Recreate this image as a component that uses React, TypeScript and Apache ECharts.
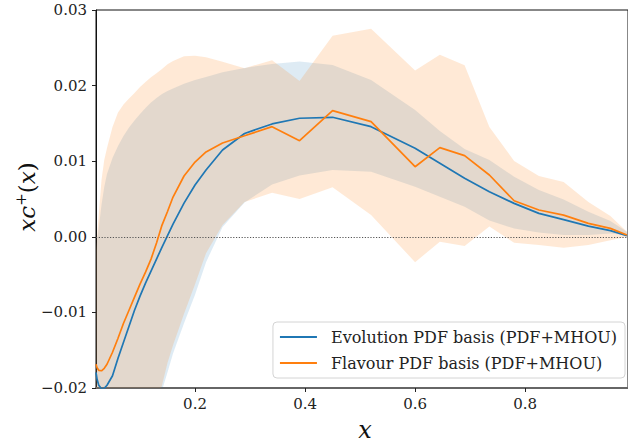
import React, { useEffect, useRef } from "react";
import * as echarts from "echarts";

// x grid shared by every curve
const X_VALUES = [0.02, 0.022, 0.025, 0.03, 0.035, 0.04, 0.05, 0.06, 0.07, 0.08, 0.09, 0.10, 0.11, 0.12, 0.13, 0.14, 0.15, 0.16, 0.18, 0.20, 0.22, 0.25, 0.29, 0.34, 0.39, 0.45, 0.52, 0.60, 0.645, 0.69, 0.735, 0.78, 0.825, 0.87, 0.915, 0.955, 0.985];

// Evolution PDF basis (PDF+MHOU)
const EVO_CENTRAL = [-0.01792, -0.01885, -0.01964, -0.02011, -0.02004, -0.01964, -0.01838, -0.01607, -0.01395, -0.01183, -0.00971, -0.00785, -0.00613, -0.00454, -0.00295, -0.00136, 0.00016, 0.00168, 0.00446, 0.00685, 0.00883, 0.01148, 0.01367, 0.01493, 0.01568, 0.01581, 0.01457, 0.01171, 0.00972, 0.00774, 0.00596, 0.00442, 0.0031, 0.00228, 0.00142, 0.00082, 0.00016];
const EVO_UPPER = [-0.00176, -0.00044, 0.00115, 0.0042, 0.00658, 0.0083, 0.01042, 0.01201, 0.01334, 0.01446, 0.01539, 0.01625, 0.01705, 0.01777, 0.01837, 0.0189, 0.0193, 0.01963, 0.02023, 0.02075, 0.02115, 0.02175, 0.02234, 0.02287, 0.02318, 0.02274, 0.02075, 0.01678, 0.014, 0.01162, 0.01016, 0.00795, 0.00619, 0.00493, 0.00331, 0.00208, 0.00066];
const EVO_LOWER = [-0.06, -0.058, -0.056, -0.054, -0.052, -0.05, -0.046, -0.0425, -0.039, -0.036, -0.033, -0.0305, -0.0282, -0.0259, -0.0232, -0.0203, -0.01792, -0.01544, -0.01143, -0.00766, -0.00335, 0.00128, 0.00453, 0.00691, 0.00811, 0.00883, 0.00861, 0.00662, 0.0053, 0.00397, 0.00215, 0.00109, 0.00058, 0.00023, 0.00023, 0.00045, 0.00023];

// Flavour PDF basis (PDF+MHOU)
const FLAV_CENTRAL = [-0.01686, -0.01732, -0.01766, -0.01772, -0.01739, -0.01686, -0.01527, -0.01342, -0.01143, -0.00971, -0.00799, -0.00626, -0.00468, -0.00295, -0.00083, 0.00155, 0.00334, 0.00526, 0.00804, 0.00989, 0.01122, 0.01241, 0.01336, 0.01457, 0.01272, 0.01669, 0.01523, 0.00927, 0.01179, 0.01073, 0.00817, 0.00477, 0.00354, 0.00287, 0.00177, 0.00111, 0.00023];
const FLAV_UPPER = [-0.00176, 0.00009, 0.00287, 0.00751, 0.01016, 0.01175, 0.01453, 0.01645, 0.01751, 0.0183, 0.01903, 0.01983, 0.02049, 0.02109, 0.02164, 0.02221, 0.02281, 0.02327, 0.02387, 0.02396, 0.02376, 0.02314, 0.0223, 0.02336, 0.02062, 0.02658, 0.02751, 0.02199, 0.02407, 0.02268, 0.01453, 0.01003, 0.00804, 0.00725, 0.0046, 0.00274, 0.00066];
const FLAV_LOWER = [-0.058, -0.056, -0.054, -0.052, -0.05, -0.048, -0.044, -0.0405, -0.037, -0.034, -0.0315, -0.0295, -0.0272, -0.0249, -0.0223, -0.01964, -0.01666, -0.01434, -0.01017, -0.00626, -0.00216, 0.00155, 0.0046, 0.00583, 0.00499, 0.00654, 0.00287, -0.00335, -0.00066, -0.00123, 0.00135, -0.00079, -0.0011, -0.00146, -0.0011, -0.00044, 0];

const X_TICKS = [0.2, 0.4, 0.6, 0.8];
const SERIES_NAMES = ["Evolution PDF basis (PDF+MHOU)", "Flavour PDF basis (PDF+MHOU)"];

const BLUE = "#1f77b4";
const ORANGE = "#ff7f0e";
const FONT = "DejaVu Serif";

function bandSeries(upper: number[], lower: number[], fill: string, z: number) {
  return {
    type: "custom",
    silent: true,
    clip: true,
    z,
    data: X_VALUES.map((x, i) => [x, upper[i], lower[i]]),
    encode: { x: 0, y: [1, 2] },
    renderItem: (params: any, api: any) => {
      if (params.dataIndex !== 0) return null;
      const pts: number[][] = [];
      for (let i = 0; i < X_VALUES.length; i++) pts.push(api.coord([X_VALUES[i], upper[i]]));
      for (let i = X_VALUES.length - 1; i >= 0; i--) pts.push(api.coord([X_VALUES[i], lower[i]]));
      const cs = params.coordSys;
      return {
        type: "group",
        clipPath: { type: "rect", shape: { x: cs.x, y: cs.y, width: cs.width, height: cs.height } },
        children: [{ type: "polygon", shape: { points: pts }, style: { fill, stroke: "none" } }],
      };
    },
  };
}

export default function App() {
  const ref = useRef<HTMLDivElement>(null);
  useEffect(() => {
    document.body.style.margin = "0";
    if (!ref.current) return;
    const chart = echarts.init(ref.current, null, { renderer: "svg" });
    const fmtY = (v: number) => (v < 0 ? "\u2212" : "") + Math.abs(v).toFixed(2);
    chart.setOption({
      animation: false,
      backgroundColor: "#fff",
      textStyle: { fontFamily: FONT },
      grid: { left: 96, top: 10, width: 533, height: 378, show: true, borderColor: "#111", borderWidth: 1, backgroundColor: "transparent" },
      xAxis: {
        type: "value",
        min: 0.02,
        max: 0.987,
        axisLine: { show: true, onZero: false, lineStyle: { color: "#666", width: 2 } },
        axisTick: { show: true, customValues: X_TICKS, length: 4, inside: false, lineStyle: { color: "#222" } },
        axisLabel: { customValues: X_TICKS, formatter: (v: number) => v.toFixed(1), fontFamily: FONT, fontSize: 15, color: "#222", margin: 8 },
        splitLine: { show: false },
      },
      yAxis: {
        type: "value",
        min: -0.02,
        max: 0.03,
        interval: 0.01,
        axisLine: { show: true, lineStyle: { color: "#111", width: 1 } },
        axisTick: { show: true, length: 4, inside: false, lineStyle: { color: "#222" } },
        axisLabel: { formatter: fmtY, fontFamily: FONT, fontSize: 15, color: "#222", margin: 9 },
        splitLine: { show: false },
      },
      legend: {
        orient: "vertical",
        right: 3,
        bottom: 68,
        data: SERIES_NAMES,
        icon: "rect",
        itemWidth: 37,
        itemHeight: 2,
        itemGap: 10,
        padding: [7, 8, 7, 7],
        backgroundColor: "rgba(255,255,255,0.85)",
        borderColor: "#d4d4d4",
        borderWidth: 1,
        borderRadius: 4,
        textStyle: { fontFamily: FONT, fontSize: 16, color: "#222", padding: [0, 0, 0, 9] },
      },
      graphic: [
        {
          type: "text",
          x: 365,
          y: 430,
          style: { text: "x", fontFamily: FONT, fontStyle: "italic", fontSize: 24, fill: "#111", align: "center", verticalAlign: "middle" },
        },
        {
          type: "text",
          x: 27,
          y: 197,
          rotation: Math.PI / 2,
          style: {
            text: "{it|xc}{sup|+}{n|(}{it|x}{n|)}",
            align: "center",
            verticalAlign: "middle",
            fill: "#111",
            fontFamily: FONT,
            rich: {
              it: { fontFamily: FONT, fontStyle: "italic", fontSize: 23, lineHeight: 28, fill: "#111" },
              sup: { fontFamily: FONT, fontSize: 15, lineHeight: 28, verticalAlign: "top", fill: "#111" },
              n: { fontFamily: FONT, fontSize: 23, lineHeight: 28, fill: "#111" },
            },
          },
        },
      ],
      series: [
        bandSeries(EVO_UPPER, EVO_LOWER, "rgba(31,119,180,0.15)", 1),
        bandSeries(FLAV_UPPER, FLAV_LOWER, "rgba(255,127,14,0.17)", 2),
        {
          name: SERIES_NAMES[0],
          type: "line",
          z: 4,
          data: X_VALUES.map((x, i) => [x, EVO_CENTRAL[i]]),
          showSymbol: false,
          symbol: "none",
          lineStyle: { color: BLUE, width: 1.7 },
          itemStyle: { color: BLUE },
          markLine: {
            silent: true,
            symbol: ["none", "none"],
            label: { show: false },
            lineStyle: { type: [1.2, 1.6], color: "#555", width: 1 },
            data: [{ yAxis: 0 }],
          },
        },
        {
          name: SERIES_NAMES[1],
          type: "line",
          z: 5,
          data: X_VALUES.map((x, i) => [x, FLAV_CENTRAL[i]]),
          showSymbol: false,
          symbol: "none",
          lineStyle: { color: ORANGE, width: 1.7 },
          itemStyle: { color: ORANGE },
        },
      ],
    });
    return () => chart.dispose();
  }, []);
  return <div ref={ref} style={{ width: 628, height: 446 }} />;
}
